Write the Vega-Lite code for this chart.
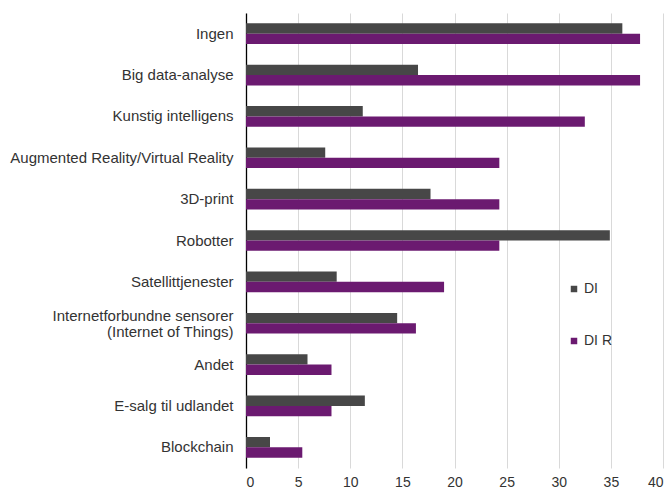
{
  "$schema": "https://vega.github.io/schema/vega-lite/v6.json",
  "width": 417,
  "height": 455,
  "autosize": {"type": "none"},
  "padding": {"left": 246, "top": 13, "right": 9, "bottom": 25},
  "background": "white",
  "config": {
    "view": {"stroke": null},
    "font": "Liberation Sans"
  },
  "data": {
    "values": [
      {"kategori": "Ingen", "serie": "DI", "andel": 36.1},
      {"kategori": "Ingen", "serie": "DI R", "andel": 37.8},
      {"kategori": "Big data-analyse", "serie": "DI", "andel": 16.5},
      {"kategori": "Big data-analyse", "serie": "DI R", "andel": 37.8},
      {"kategori": "Kunstig intelligens", "serie": "DI", "andel": 11.2},
      {"kategori": "Kunstig intelligens", "serie": "DI R", "andel": 32.5},
      {"kategori": "Augmented Reality/Virtual Reality", "serie": "DI", "andel": 7.6},
      {"kategori": "Augmented Reality/Virtual Reality", "serie": "DI R", "andel": 24.3},
      {"kategori": "3D-print", "serie": "DI", "andel": 17.7},
      {"kategori": "3D-print", "serie": "DI R", "andel": 24.3},
      {"kategori": "Robotter", "serie": "DI", "andel": 34.9},
      {"kategori": "Robotter", "serie": "DI R", "andel": 24.3},
      {"kategori": "Satellittjenester", "serie": "DI", "andel": 8.7},
      {"kategori": "Satellittjenester", "serie": "DI R", "andel": 19.0},
      {"kategori": "Internetforbundne sensorer|(Internet of Things)", "serie": "DI", "andel": 14.5},
      {"kategori": "Internetforbundne sensorer|(Internet of Things)", "serie": "DI R", "andel": 16.3},
      {"kategori": "Andet", "serie": "DI", "andel": 5.9},
      {"kategori": "Andet", "serie": "DI R", "andel": 8.2},
      {"kategori": "E-salg til udlandet", "serie": "DI", "andel": 11.4},
      {"kategori": "E-salg til udlandet", "serie": "DI R", "andel": 8.2},
      {"kategori": "Blockchain", "serie": "DI", "andel": 2.3},
      {"kategori": "Blockchain", "serie": "DI R", "andel": 5.4}
    ]
  },
  "mark": {"type": "bar"},
  "encoding": {
    "y": {
      "field": "kategori",
      "type": "nominal",
      "sort": null,
      "scale": {"paddingInner": 0.5, "paddingOuter": 0.25},
      "axis": {
        "title": null,
        "ticks": false,
        "domain": true,
        "domainColor": "#000000",
        "domainWidth": 1.3,
        "labelPadding": 13,
        "labelFontSize": 15,
        "labelColor": "#333333",
        "labelLimit": 300,
        "labelLineHeight": 16,
        "labelOffset": {"expr": "indexof(datum.value, '|') >= 0 ? -7 : 0"},
        "labelExpr": "split(datum.label, '|')"
      }
    },
    "yOffset": {
      "field": "serie",
      "type": "nominal",
      "sort": ["DI", "DI R"]
    },
    "x": {
      "field": "andel",
      "type": "quantitative",
      "scale": {"domain": [0, 40]},
      "axis": {
        "title": null,
        "values": [0, 5, 10, 15, 20, 25, 30, 35, 40],
        "domain": false,
        "ticks": false,
        "grid": true,
        "gridColor": "#D9D9D9",
        "gridWidth": 1,
        "labelPadding": 7,
        "labelFontSize": 14,
        "labelColor": "#333333"
      }
    },
    "color": {
      "field": "serie",
      "type": "nominal",
      "scale": {"domain": ["DI", "DI R"], "range": ["#474747", "#6B1A70"]},
      "legend": {
        "title": null,
        "orient": "none",
        "legendX": 321,
        "legendY": 269,
        "symbolType": "square",
        "symbolSize": 42,
        "symbolStrokeWidth": 0,
        "labelFontSize": 14,
        "labelColor": "#333333",
        "labelOffset": 3,
        "rowPadding": 38
      }
    }
  }
}
